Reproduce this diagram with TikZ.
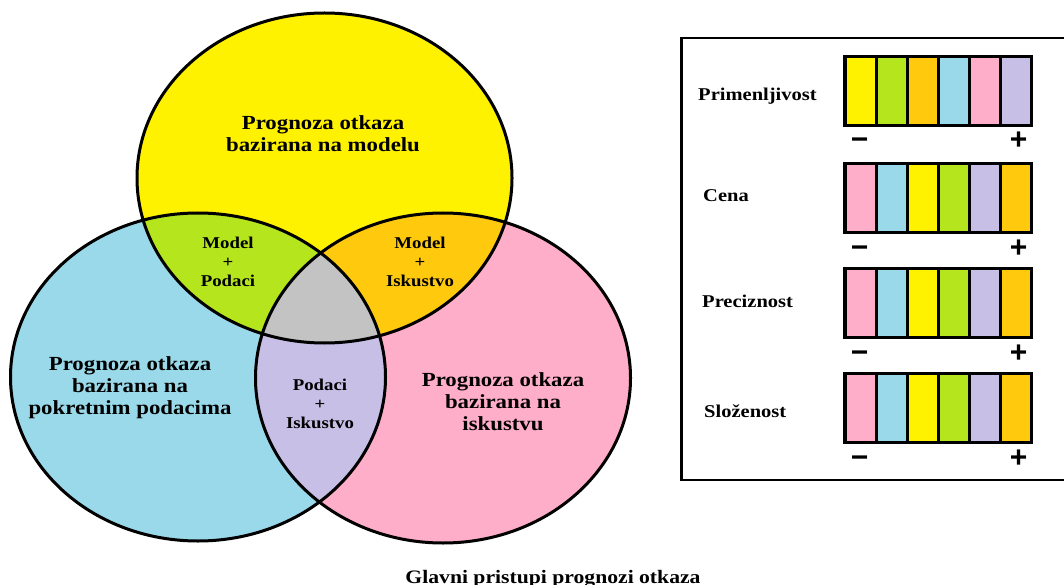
\documentclass[tikz,border=0pt]{standalone}
\usepackage{fontspec}
\setmainfont{Liberation Serif}[FakeStretch=1.14]
\newfontfamily\signfont{Liberation Sans}
\definecolor{VennYellow}{HTML}{FFF200}
\definecolor{VennGreen}{HTML}{B5E61D}
\definecolor{VennOrange}{HTML}{FFC90E}
\definecolor{VennBlue}{HTML}{99D9EA}
\definecolor{VennPink}{HTML}{FFAEC9}
\definecolor{VennLav}{HTML}{C8BFE7}
\definecolor{VennGray}{HTML}{C3C3C3}

\begin{document}
\begin{tikzpicture}[x=1pt,y=-1pt]
                \tikzset{BigLabel/.style={font=\fontsize{20}{22}\selectfont\bfseries, align=center, inner sep=0},
                         SmallLabel/.style={font=\fontsize{16.5}{19}\selectfont\bfseries, align=center, inner sep=0},
                         BarLabel/.style={font=\fontsize{18}{20}\selectfont\bfseries, anchor=base west, inner sep=0},
                         SignLabel/.style={font=\signfont\fontsize{30}{30}\selectfont\bfseries, anchor=base, inner sep=0}}
                \useasboundingbox (0,0) rectangle (1064,585);
                \def\Model{(324.5,178) ellipse [x radius=187.5, y radius=165]}
                \def\Podaci{(198,377) ellipse [x radius=187.5, y radius=164]}
                \def\Iskustvo{(443,378) ellipse [x radius=187.5, y radius=165]}
                \fill[VennYellow] \Model;
                \fill[VennBlue] \Podaci;
                \fill[VennPink] \Iskustvo;
                \begin{scope}
                    \clip \Model;
                    \fill[VennGreen] \Podaci;
                    \fill[VennOrange] \Iskustvo;
                \end{scope}
                \begin{scope}
                    \clip \Podaci;
                    \fill[VennLav] \Iskustvo;
                    \clip \Iskustvo;
                    \fill[VennGray] \Model;
                \end{scope}
                \draw[line width=3] \Model \Podaci \Iskustvo;
                \node[BigLabel] (model) at (323,134) {Prognoza otkaza\\bazirana na modelu};
                \node[BigLabel] (podaci) at (130,388) {Prognoza otkaza\\bazirana na\\pokretnim podacima};
                \node[BigLabel] (iskustvo) at (503,402) {Prognoza otkaza\\bazirana na\\iskustvu};
                \node[SmallLabel] (modpod) at (228,262) {Model\\+\\Podaci};
                \node[SmallLabel] (modisk) at (420,262) {Model\\+\\Iskustvo};
                \node[SmallLabel] (podisk) at (320,404) {Podaci\\+\\Iskustvo};
                \node[BigLabel, anchor=base, font=\fontsize{19}{21}\selectfont\bfseries] (naslov) at (553,583) {Glavni pristupi prognozi otkaza};
                \draw[line width=2.5] (1075,38) -- (681.5,38) -- (681.5,480) -- (1075,480);
                \foreach \y/\ly/\lx/\name/\lab/\cols in {
                    55/101/698/prim/Primenljivost/{VennYellow,VennGreen,VennOrange,VennBlue,VennPink,VennLav},
                    162/202/703/cena/Cena/{VennPink,VennBlue,VennYellow,VennGreen,VennLav,VennOrange},
                    267/307/702/prec/Preciznost/{VennPink,VennBlue,VennYellow,VennGreen,VennLav,VennOrange},
                    372/417/704/slo/Složenost/{VennPink,VennBlue,VennYellow,VennGreen,VennLav,VennOrange}}{
                    \fill[black] (843,\y) rectangle (1033,\y+72);
                    \foreach \c [count=\i] in \cols
                        \fill[\c] (846.5+31*\i-31,\y+3) rectangle +(28.5,66);
                    \node[BarLabel] (\name-lab) at (\lx,\ly) {\lab};
                    \node[SignLabel] (\name-minus) at (859.5,\y+95) {−};
                    \node[SignLabel] (\name-plus) at (1018.5,\y+95) {+};
                }
            \end{tikzpicture}
\end{document}
